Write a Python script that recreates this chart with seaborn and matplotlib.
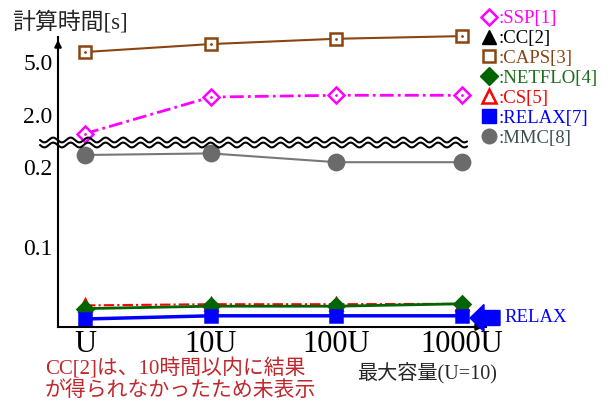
import numpy as np
import pandas as pd
import matplotlib
matplotlib.use("Agg")
import matplotlib.pyplot as plt
import seaborn as sns
from matplotlib.lines import Line2D
from matplotlib.patches import FancyArrow
from matplotlib.transforms import IdentityTransform

# data
sizes = ["U", "10U", "100U", "1000U"]
ssp = [0.93, 3.0, 3.1, 3.1]          # upper panel
caps = [5.55, 6.0, 6.3, 6.45]        # upper panel
mmc = [0.215, 0.217, 0.206, 0.206]   # lower panel
cs = [0.027, 0.0285, 0.0285, 0.029]
netflo = [0.023, 0.026, 0.026, 0.029]
relax = [0.010, 0.014, 0.014, 0.014]

sns.set_theme(style="white")
plt.rcParams["font.family"] = ["Liberation Serif", "Noto Sans CJK JP"]

W, H = 611, 403
fig = plt.figure(figsize=(W / 100, H / 100), dpi=100)


def box(l, t, r, b):
    return [l / W, 1 - b / H, (r - l) / W, (b - t) / H]


ax_top = fig.add_axes(box(58, 37, 486, 143))
ax_bot = fig.add_axes(box(58, 143, 486, 327))
for a in (ax_top, ax_bot):
    a.set_facecolor("none")
    a.set_xlim(-0.215, 3.19)
    for s in ("top", "right"):
        a.spines[s].set_visible(False)
    a.spines["left"].set_color("black")
    a.spines["left"].set_linewidth(1.5)
    a.tick_params(length=0, labelsize=17, pad=4, colors="black")
ax_top.spines["bottom"].set_visible(False)
ax_bot.spines["bottom"].set_color("black")
ax_bot.spines["bottom"].set_linewidth(1.5)

df = pd.DataFrame({"x": range(4), "SSP": ssp, "CAPS": caps, "MMC": mmc,
                   "CS": cs, "NETFLO": netflo, "RELAX": relax})

dashdot = (0, (5, 1.5, 1, 1.5))
series = [
    # name, axes, color, marker, face, ms, lw, ls
    ("CAPS", ax_top, "#8b4513", "s", "white", 8, 1.5, "-"),
    ("SSP", ax_top, "#ff00ff", "D", "white", 8, 2, dashdot),
    ("MMC", ax_bot, "#787878", "o", "#6b6b6b", 11, 1.5, "-"),
    ("CS", ax_bot, "#ff0000", "^", "white", 9, 1.5, dashdot),
    ("NETFLO", ax_bot, "#006400", "D", "#006400", 8, 2, "-"),
    ("RELAX", ax_bot, "#0000ff", "s", "#0000ff", 9, 2.5, "-"),
]
for name, a, col, mk, face, ms, lw, ls in series:
    edge = "#6b6b6b" if name == "MMC" else col
    sns.lineplot(data=df, x="x", y=name, ax=a, color=col, marker=mk,
                 markersize=ms, markerfacecolor=face, markeredgecolor=edge,
                 markeredgewidth=1.8, linewidth=lw, linestyle=ls, clip_on=False)
    if face == "white":
        a.plot(df["x"], df[name], ls="none", marker=".", ms=2, color=col, clip_on=False)

ax_top.set_ylim(0.4, 6.4)
ax_top.set_yticks([2.0, 5.0], ["2.0", "5.0"])
ax_top.set_xticks([])
ax_bot.set_ylim(0, 0.23)
ax_bot.set_yticks([0.1, 0.2], ["0.1", "0.2"])
ax_bot.set_xticks(range(4), sizes)
ax_bot.tick_params(axis="x", labelsize=22, pad=2)
for a in (ax_top, ax_bot):
    a.set_xlabel("")
    a.set_ylabel("")

# axis arrows
ax_top.annotate("", xy=(0, 1.0), xytext=(0, 0.85), xycoords="axes fraction",
                arrowprops=dict(arrowstyle="-|>", color="black", lw=1.5, mutation_scale=10))
ax_bot.annotate("", xy=(1.0, 0), xytext=(0.95, 0), xycoords="axes fraction",
                arrowprops=dict(arrowstyle="-|>", color="black", lw=1.5, mutation_scale=10))

# wavy break mark
xs = np.linspace(40, 467, 800)
for off in (0, 5):
    ys = 140 + off + 2.4 * np.sin(2 * np.pi * (xs - 40) / 17.5)
    fig.add_artist(Line2D(xs / W, 1 - ys / H, color="black", lw=1.5,
                          transform=fig.transFigure))

# legend
handles = [
    Line2D([], [], ls="none", marker="D", ms=8.5, mfc="white", mec="#ff00ff", mew=1.8),
    Line2D([], [], ls="none", marker="^", ms=9.5, mfc="black", mec="black"),
    Line2D([], [], ls="none", marker="s", ms=8.5, mfc="white", mec="#8b4513", mew=1.8),
    Line2D([], [], ls="none", marker="D", ms=9.5, mfc="#006400", mec="#006400"),
    Line2D([], [], ls="none", marker="^", ms=9.5, mfc="white", mec="#ff0000", mew=1.8),
    Line2D([], [], ls="none", marker="s", ms=9.5, mfc="#0000ff", mec="#0000ff"),
    Line2D([], [], ls="none", marker="o", ms=10.5, mfc="#6b6b6b", mec="#6b6b6b"),
]
labels = [":SSP[1]", ":CC[2]", ":CAPS[3]", ":NETFLO[4]", ":CS[5]", ":RELAX[7]", ":MMC[8]"]
label_colors = ["#ff00ff", "black", "#8b4513", "#1a6e1a", "#ff0000", "#0000ff", "#3c5050"]
fig.legend(handles, labels, loc="upper left", bbox_to_anchor=(481 / W, 1 - 10 / H),
           frameon=False, fontsize=13.5, labelspacing=0.15, handlelength=0.9,
           handletextpad=0.05, borderpad=0, borderaxespad=0, labelcolor=label_colors)

# texts
fig.text(12 / W, 1 - 22 / H, "計算時間[s]", fontsize=16.5, va="center", ha="left")
fig.text(357 / W, 1 - 374 / H, "最大容量(U=10)", fontsize=14.5, va="center", ha="left")
fig.text(45 / W, 1 - 380 / H, "CC[2]は、10時間以内に結果\nが得られなかったため未表示",
         fontsize=15, va="center", ha="left", color="#c0282d", linespacing=1.12)

fig.add_artist(FancyArrow(500, H - 318, -16, 0, width=15, head_width=27, head_length=14,
                          color="#0000ff", transform=IdentityTransform()))
fig.text(504 / W, 1 - 318 / H, "RELAX", fontsize=13.5, va="center", ha="left", color="#0000ff")

fig.savefig("out.png", dpi=100)
